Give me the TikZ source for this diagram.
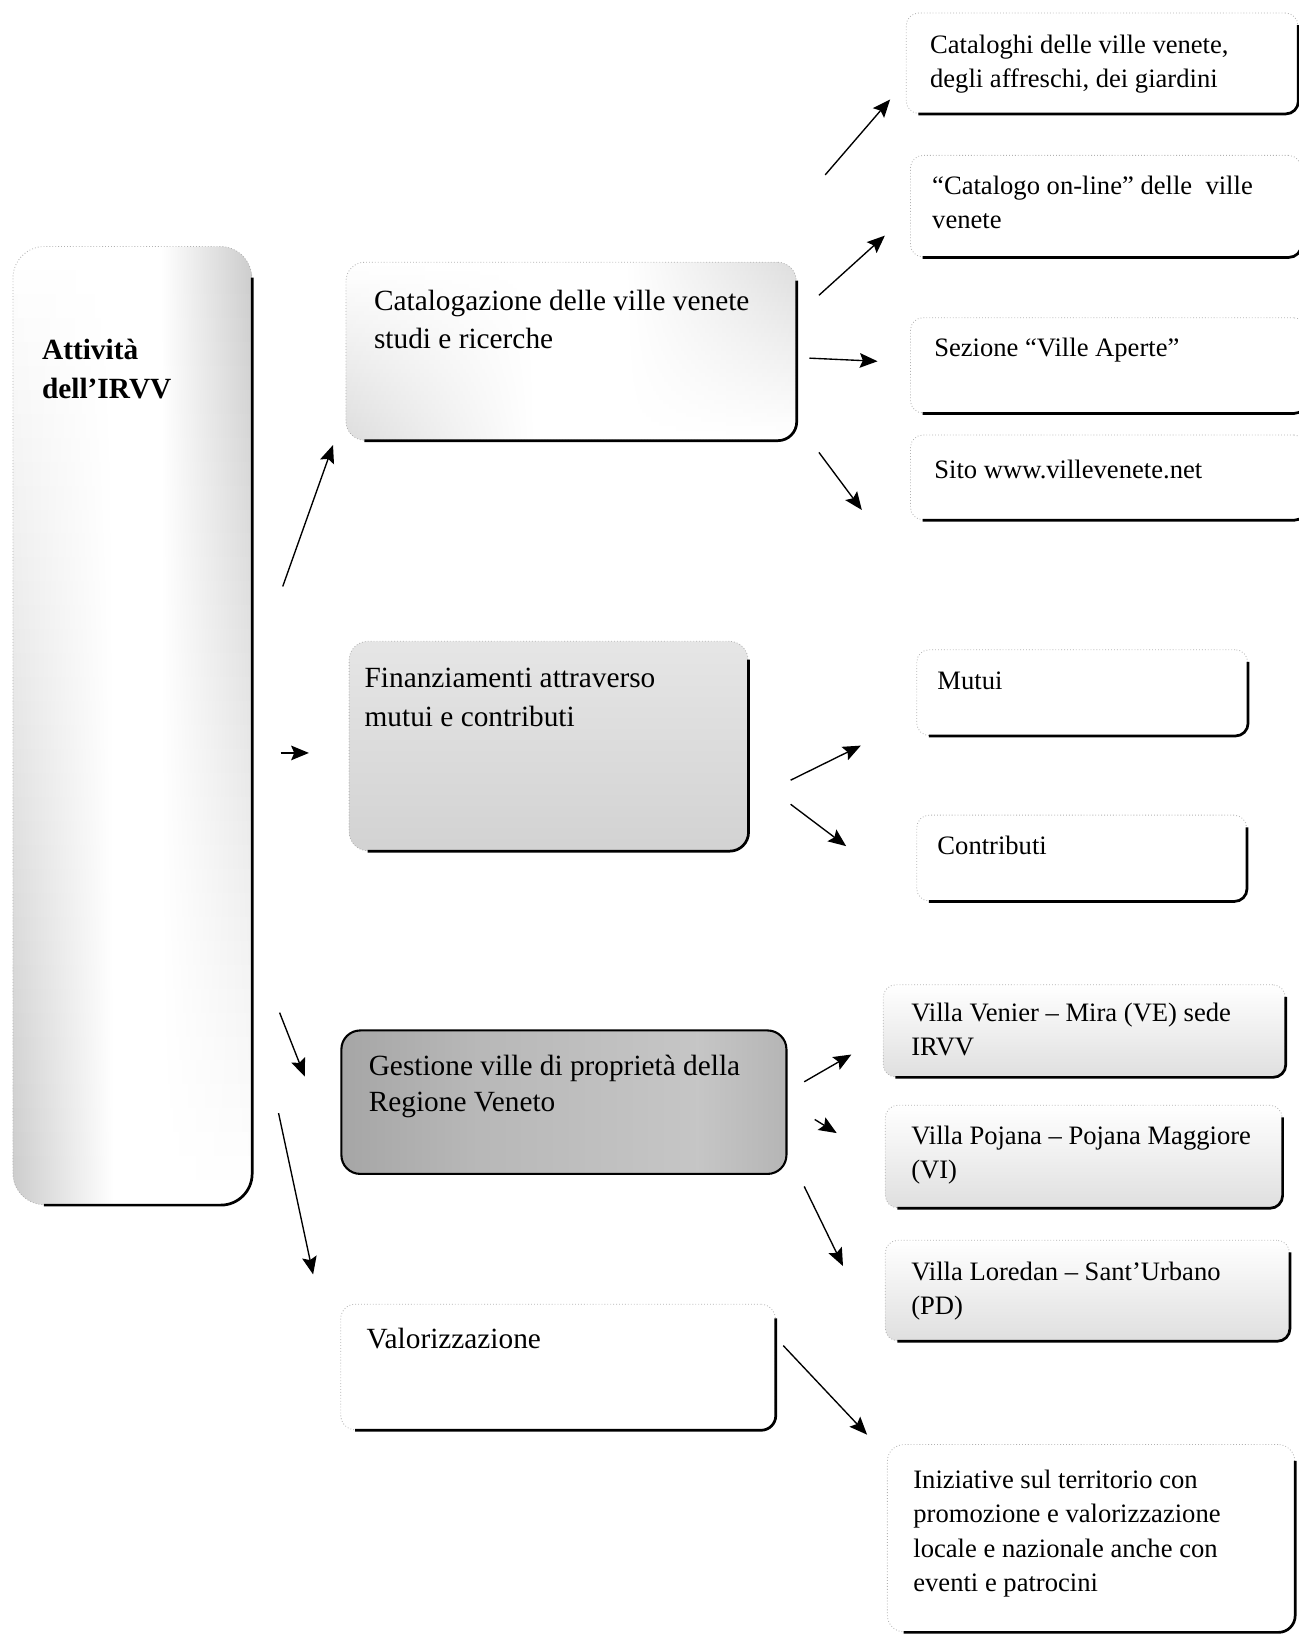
\documentclass[tikz,border=0pt]{standalone}
\usepackage{fontspec}
\setmainfont{Liberation Serif}
\usepackage{xcolor}
\usetikzlibrary{arrows.meta, calc}

\colorlet{grigiosx}{white}
\colorlet{grigiodx}{white}
\pgfdeclarehorizontalshading[grigiosx,grigiodx]{striscia}{100bp}{color(0bp)=(grigiosx); color(25bp)=(grigiosx); color(46bp)=(white); color(56bp)=(white); color(75bp)=(grigiodx); color(100bp)=(grigiodx)}
\pgfdeclarehorizontalshading{grigiogestione}{100bp}{color(0bp)=(gray!70); color(25bp)=(gray!70); color(40bp)=(gray!56); color(65bp)=(gray!45); color(75bp)=(gray!58); color(100bp)=(gray!58)}

\tikzset{
	casella/.style = {draw = gray!60, dotted, line width = 0.8pt, anchor = north west, inner sep = 0pt, rounded corners = 16pt},
	testo/.style = {anchor = north west, inner sep = 0pt, align = left},
	grande/.style = {font = \fontsize{28}{36}\selectfont},
	piccolo/.style = {font = \fontsize{25.4}{32.5}\selectfont},
	freccia/.style = {-{Stealth[length = 17pt, width = 14pt, inset = 3pt]}, line width = 1.3pt},
	sfumato/.style = {path picture = {
		\foreach \i in {0, ..., 39} {
			\pgfmathsetmacro\sopra{#1*\i/39}
			\pgfmathsetmacro\sotto{#1-\sopra}
			\pgfmathsetmacro\bandaA{\i/40}
			\pgfmathsetmacro\bandaB{(\i+1.3)/40}
			\colorlet{grigiosx}{gray!\sopra}
			\colorlet{grigiodx}{gray!\sotto}
			\shade [sharp corners, shading = striscia] ($(path picture bounding box.north west)!\bandaA!(path picture bounding box.south west)$) rectangle ($(path picture bounding box.north east)!\bandaB!(path picture bounding box.south east)$);
		}
	}},
}
\newcommand{\ombra}[2][16pt]{\draw [line width = 2.6pt, rounded corners = #1] ([yshift = -#1]#2.north east) -- (#2.south east) -- ([xshift = #1]#2.south west);}

\begin{document}
\begin{tikzpicture}[x = 1pt, y = -1pt]
		\useasboundingbox (0, 0) rectangle (1240, 1568);
		% 左框
		\node [casella, rounded corners = 30pt, sfumato = 40, minimum width = 228pt, minimum height = 915pt] (attivita) at (12, 235) {};
		\ombra[30pt]{attivita}
		\node [testo, font = \bfseries\fontsize{28}{37}\selectfont] (attivita-t) at (40, 324) {Attività\\dell’IRVV};
		% 中间的框
		\node [casella, rounded corners = 18pt, sfumato = 26, minimum width = 430pt, minimum height = 170pt] (catalogazione) at (330, 250) {};
		\ombra[18pt]{catalogazione}
		\node [testo, grande] (catalogazione-t) at (357, 277) {Catalogazione delle ville venete\\studi e ricerche};
		\node [casella, rounded corners = 18pt, top color = gray!20, bottom color = gray!35, minimum width = 381pt, minimum height = 200pt] (finanziamenti) at (333, 612) {};
		\ombra[18pt]{finanziamenti}
		\node [testo, font = \fontsize{28}{37}\selectfont] (finanziamenti-t) at (348, 638) {Finanziamenti attraverso\\mutui e contributi};
		\node [casella, solid, draw = black, line width = 2pt, rounded corners = 18pt, shade, shading = grigiogestione, minimum width = 425pt, minimum height = 137pt] (gestione) at (325, 983) {};
		\node [testo, font = \fontsize{28}{35}\selectfont] (gestione-t) at (352, 1007) {Gestione ville di proprietà della\\Regione Veneto};
		\node [casella, rounded corners = 14pt, minimum width = 415pt, minimum height = 120pt] (valorizzazione) at (325, 1245) {};
		\ombra[14pt]{valorizzazione}
		\node [testo, grande] (valorizzazione-t) at (350, 1268) {Valorizzazione};
		% 右边的框
		\node [casella, rounded corners = 12pt, minimum width = 374pt, minimum height = 96pt] (cataloghi) at (865, 12) {};
		\ombra[12pt]{cataloghi}
		\node [testo, piccolo] (cataloghi-t) at (888, 33) {Cataloghi delle ville venete,\\degli affreschi, dei giardini};
		\node [casella, rounded corners = 12pt, minimum width = 373pt, minimum height = 97pt] (catalogoonline) at (869, 148) {};
		\ombra[12pt]{catalogoonline}
		\node [testo, piccolo] (catalogoonline-t) at (890, 168) {“Catalogo on-line” delle\ \ ville\\venete};
		\node [casella, rounded corners = 12pt, minimum width = 378pt, minimum height = 91pt] (villeaperte) at (869, 303) {};
		\ombra[12pt]{villeaperte}
		\node [testo, piccolo] (villeaperte-t) at (892, 323) {Sezione “Ville Aperte”};
		\node [casella, rounded corners = 12pt, minimum width = 378pt, minimum height = 81pt] (sito) at (869, 415) {};
		\ombra[12pt]{sito}
		\node [testo, piccolo] (sito-t) at (892, 439) {Sito www.villevenete.net};
		\node [casella, rounded corners = 12pt, minimum width = 316pt, minimum height = 82pt] (mutui) at (875, 620) {};
		\ombra[12pt]{mutui}
		\node [testo, piccolo] (mutui-t) at (895, 641) {Mutui};
		\node [casella, rounded corners = 12pt, minimum width = 315pt, minimum height = 82pt] (contributi) at (875, 778) {};
		\ombra[12pt]{contributi}
		\node [testo, piccolo] (contributi-t) at (895, 798) {Contributi};
		\node [casella, rounded corners = 12pt, top color = white, bottom color = gray!25, minimum width = 384pt, minimum height = 88pt] (venier) at (843, 940) {};
		\ombra[12pt]{venier}
		\node [testo, piccolo] (venier-t) at (870, 958) {Villa Venier – Mira (VE) sede\\IRVV};
		\node [casella, rounded corners = 12pt, top color = white, bottom color = gray!25, minimum width = 379pt, minimum height = 98pt] (pojana) at (845, 1055) {};
		\ombra[12pt]{pojana}
		\node [testo, piccolo] (pojana-t) at (870, 1075) {Villa Pojana – Pojana Maggiore\\(VI)};
		\node [casella, rounded corners = 12pt, top color = white, bottom color = gray!25, minimum width = 386pt, minimum height = 96pt] (loredan) at (845, 1184) {};
		\ombra[12pt]{loredan}
		\node [testo, piccolo] (loredan-t) at (870, 1205) {Villa Loredan – Sant’Urbano\\(PD)};
		\node [casella, rounded corners = 16pt, minimum width = 389pt, minimum height = 179pt] (iniziative) at (847, 1379) {};
		\ombra[16pt]{iniziative}
		\node [testo, piccolo] (iniziative-t) at (872, 1404) {Iniziative sul territorio con\\promozione e valorizzazione\\locale e nazionale anche con\\eventi e patrocini};
		% 箭头
		\coordinate (att-cat-a) at (270, 560);
		\coordinate (att-cat-b) at (318, 425);
		\coordinate (att-fin-a) at (268, 719);
		\coordinate (att-fin-b) at (295, 719);
		\coordinate (att-ges-a) at (267, 967);
		\coordinate (att-ges-b) at (291, 1028);
		\coordinate (att-val-a) at (266, 1063);
		\coordinate (att-val-b) at (299, 1217);
		\coordinate (cat-1-a) at (788, 167);
		\coordinate (cat-1-b) at (850, 95);
		\coordinate (cat-2-a) at (782, 282);
		\coordinate (cat-2-b) at (845, 225);
		\coordinate (cat-3-a) at (773, 342);
		\coordinate (cat-3-b) at (838, 345);
		\coordinate (cat-4-a) at (782, 432);
		\coordinate (cat-4-b) at (823, 487);
		\coordinate (fin-1-a) at (755, 745);
		\coordinate (fin-1-b) at (822, 712);
		\coordinate (fin-2-a) at (755, 768);
		\coordinate (fin-2-b) at (808, 808);
		\coordinate (ges-1-a) at (768, 1033);
		\coordinate (ges-1-b) at (813, 1007);
		\coordinate (ges-2-a) at (778, 1069);
		\coordinate (ges-2-b) at (799, 1082);
		\coordinate (ges-3-a) at (768, 1133);
		\coordinate (ges-3-b) at (805, 1209);
		\coordinate (val-1-a) at (748, 1285);
		\coordinate (val-1-b) at (828, 1370);
		\foreach \da/\a in {att-cat-a/att-cat-b, att-fin-a/att-fin-b, att-ges-a/att-ges-b, att-val-a/att-val-b, cat-1-a/cat-1-b, cat-2-a/cat-2-b, cat-3-a/cat-3-b, cat-4-a/cat-4-b, fin-1-a/fin-1-b, fin-2-a/fin-2-b, ges-1-a/ges-1-b, ges-2-a/ges-2-b, ges-3-a/ges-3-b, val-1-a/val-1-b}
			\draw [freccia] (\da) -- (\a);
	\end{tikzpicture}
\end{document}
